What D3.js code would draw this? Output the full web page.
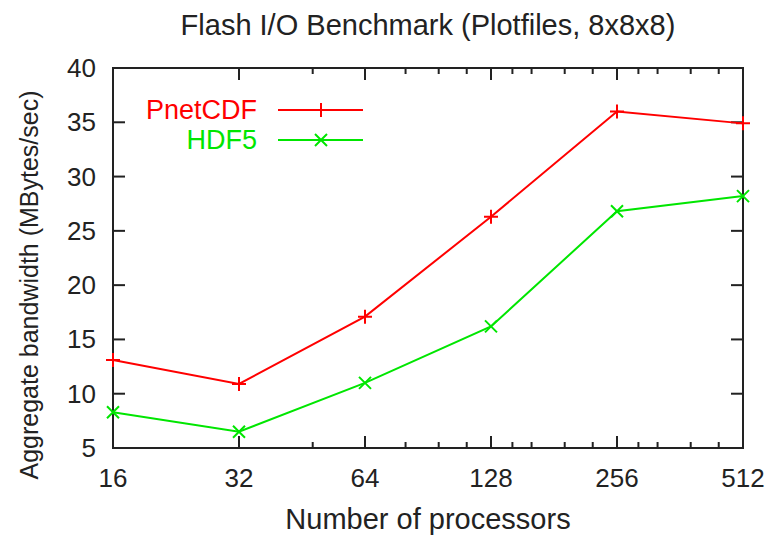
<!DOCTYPE html>
<html lang="en">
<head>
<meta charset="UTF-8">
<title>Flash I/O Benchmark</title>
<style>
  body { margin: 0; background: #fff; }
  text { font-family: "Liberation Sans", Arial, sans-serif; fill: #222; }
</style>
</head>
<body>
<script src="https://cdn.jsdelivr.net/npm/d3@7"></script>
<script>
var procs = [16, 32, 64, 128, 256, 512];
var pnetcdf = [13.1, 10.9, 17.1, 26.3, 36.0, 34.9];
var hdf5 = [8.3, 6.5, 11.0, 16.2, 26.8, 28.2];
var yTicks = [5, 10, 15, 20, 25, 30, 35, 40];
var minorTicks = [48, 80, 96, 112, 144, 160, 192, 224, 288, 320, 384, 448];

var W = 771, H = 535;
var m = { left: 113, right: 28, top: 68, bottom: 87 };

var svg = d3.select("body").append("svg").attr("width", W).attr("height", H);

var x = d3.scaleLog().base(2).domain([16, 512]).range([m.left, W - m.right]);
var y = d3.scaleLinear().domain([5, 40]).range([H - m.bottom, m.top]);

var axisColor = "#222";

// tick marks on all four sides, pointing inward
function ticks(axis, vals, len) {
  svg.append("g").selectAll("line").data(vals).enter().append("line")
    .attr("x1", axis == "x" ? function (d) { return x(d); } : m.left)
    .attr("x2", axis == "x" ? function (d) { return x(d); } : m.left + len)
    .attr("y1", axis == "x" ? H - m.bottom : function (d) { return y(d); })
    .attr("y2", axis == "x" ? H - m.bottom - len : function (d) { return y(d); })
    .attr("stroke", axisColor).attr("stroke-width", 2);
  svg.append("g").selectAll("line").data(vals).enter().append("line")
    .attr("x1", axis == "x" ? function (d) { return x(d); } : W - m.right)
    .attr("x2", axis == "x" ? function (d) { return x(d); } : W - m.right - len)
    .attr("y1", axis == "x" ? m.top : function (d) { return y(d); })
    .attr("y2", axis == "x" ? m.top + len : function (d) { return y(d); })
    .attr("stroke", axisColor).attr("stroke-width", 2);
}
ticks("x", procs.slice(1, -1), 12);
ticks("x", minorTicks, 6);
ticks("y", yTicks.slice(1, -1), 12);

svg.append("rect")
  .attr("x", m.left).attr("y", m.top)
  .attr("width", W - m.left - m.right).attr("height", H - m.top - m.bottom)
  .attr("fill", "none").attr("stroke", axisColor).attr("stroke-width", 2);

// tick labels
svg.append("g").selectAll("text").data(procs).enter().append("text")
  .attr("x", function (d) { return x(d); })
  .attr("y", H - m.bottom + 39)
  .attr("text-anchor", "middle")
  .style("font-size", "26px")
  .text(function (d) { return d; });

svg.append("g").selectAll("text").data(yTicks).enter().append("text")
  .attr("x", m.left - 17)
  .attr("y", function (d) { return y(d) + 9; })
  .attr("text-anchor", "end")
  .style("font-size", "26px")
  .text(function (d) { return d; });

svg.append("text").attr("x", 428).attr("y", 35).attr("text-anchor", "middle")
  .style("font-size", "29px").text("Flash I/O Benchmark (Plotfiles, 8x8x8)");
svg.append("text").attr("x", 428).attr("y", 529).attr("text-anchor", "middle")
  .style("font-size", "29px").text("Number of processors");
svg.append("text").attr("transform", "translate(38,285) rotate(-90)").attr("text-anchor", "middle")
  .style("font-size", "25px").text("Aggregate bandwidth (MBytes/sec)");

// series
var line = d3.line().x(function (d, i) { return x(procs[i]); }).y(function (d) { return y(d); });

function plus(g, cx, cy, color) {
  g.append("path").attr("d", "M" + (cx - 7) + "," + cy + "h14M" + cx + "," + (cy - 7) + "v14")
    .attr("stroke", color).attr("stroke-width", 2).attr("fill", "none");
}
function cross(g, cx, cy, color) {
  g.append("path").attr("d", "M" + (cx - 6) + "," + (cy - 6) + "l12,12M" + (cx - 6) + "," + (cy + 6) + "l12,-12")
    .attr("stroke", color).attr("stroke-width", 2).attr("fill", "none");
}

var series = [
  { name: "PnetCDF", values: pnetcdf, color: "#ff0000", mark: plus, ly: 110 },
  { name: "HDF5", values: hdf5, color: "#00e600", mark: cross, ly: 140 }
];

series.forEach(function (s) {
  var g = svg.append("g");
  g.append("path").datum(s.values).attr("d", line)
    .attr("fill", "none").attr("stroke", s.color).attr("stroke-width", 2);
  s.values.forEach(function (v, i) { s.mark(g, x(procs[i]), y(v), s.color); });

  // legend
  svg.append("text").attr("x", 257).attr("y", s.ly + 9).attr("text-anchor", "end")
    .style("font-size", "27px").style("fill", s.color).text(s.name);
  svg.append("line").attr("x1", 278).attr("x2", 363).attr("y1", s.ly).attr("y2", s.ly)
    .attr("stroke", s.color).attr("stroke-width", 2);
  s.mark(svg, 321, s.ly, s.color);
});
</script>
</body>
</html>
